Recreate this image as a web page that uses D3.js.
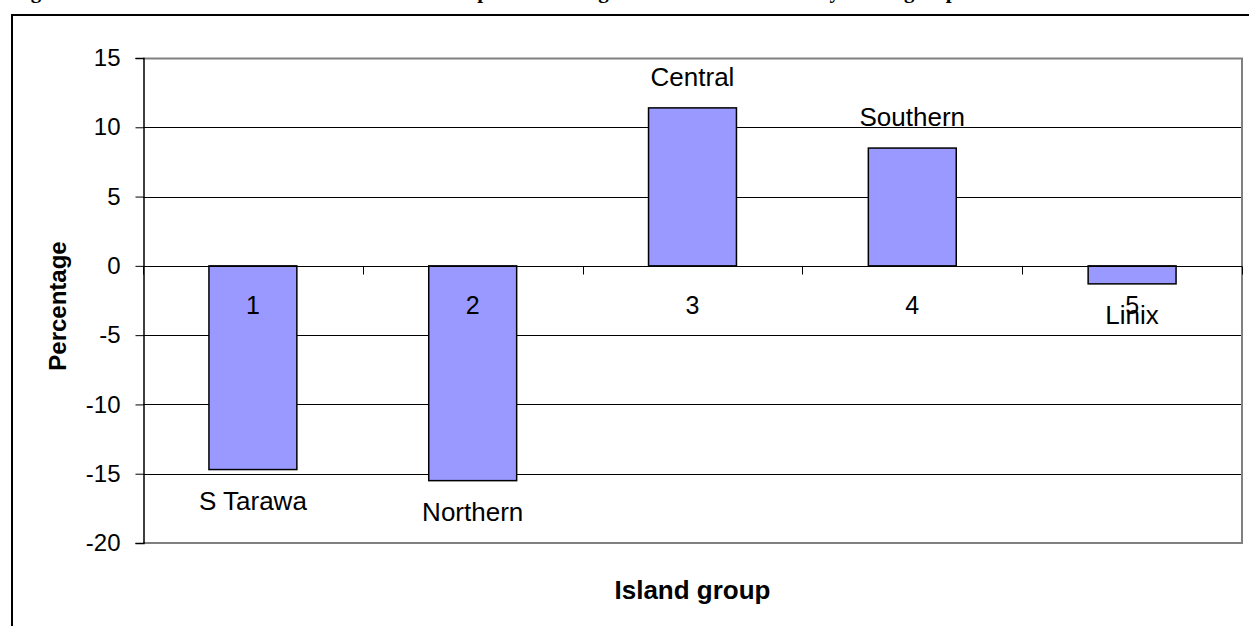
<!DOCTYPE html>
<html>
<head>
<meta charset="utf-8">
<script src="https://cdn.jsdelivr.net/npm/d3@7"></script>
<style>
  html, body { margin: 0; padding: 0; background: #fff; overflow: hidden; }
  svg { display: block; }
  text { font-family: "Liberation Sans", Arial, sans-serif; fill: #000; }
</style>
</head>
<body>
<svg id="chart" width="1249" height="626"></svg>
<script>
// Island groups, in axis order
const categories = ["1", "2", "3", "4", "5"];
const groupNames = ["S Tarawa", "Northern", "Central", "Southern", "Linix"];
// Percentage change for each group
const values = [-14.7, -15.5, 11.4, 8.5, -1.3];
const yTicks = [-20, -15, -10, -5, 0, 5, 10, 15];
const titleText = "Figure 4: Intercensal 2005 to 2010 total internal net per cent change in the usual residents by island group";

const svg = d3.select("#chart");
const W = 1249, H = 626;
const plot = { left: 143, right: 1242, top: 58, bottom: 543 };

// Page frame and the figure caption above it (mostly cut off by the top edge)
svg.append("text")
  .attr("x", 12).attr("y", -2)
  .style("font-family", '"Liberation Serif", "Times New Roman", serif')
  .style("font-weight", "bold").style("font-size", "21px")
  .text(titleText);
svg.append("line").attr("x1", 11).attr("x2", W).attr("y1", 15).attr("y2", 15)
  .attr("stroke", "#000").attr("stroke-width", 2);
svg.append("line").attr("x1", 12).attr("x2", 12).attr("y1", 14).attr("y2", H)
  .attr("stroke", "#000").attr("stroke-width", 2);

const x = d3.scaleBand().domain(categories).range([plot.left, plot.right])
  .paddingInner(0.6).paddingOuter(0.3);
const xBounds = d3.scaleLinear().domain([0, categories.length]).range([plot.left, plot.right]);
const y = d3.scaleLinear().domain([-20, 15]).range([plot.bottom, plot.top]);

// Horizontal gridlines
svg.append("g").selectAll("line")
  .data(yTicks.filter(t => t !== -20 && t !== 15 && t !== 0))
  .join("line")
  .attr("x1", plot.left).attr("x2", plot.right)
  .attr("y1", d => Math.round(y(d)) + 0.5).attr("y2", d => Math.round(y(d)) + 0.5)
  .attr("stroke", "#000").attr("stroke-width", 1);

// Plot area border (top, right, bottom)
svg.append("path")
  .attr("d", `M${plot.left},${plot.top + 0.5}H${plot.right}V${plot.bottom}H${plot.left}`)
  .attr("fill", "none").attr("stroke", "#808080").attr("stroke-width", 2);

// Y axis (plain hyphen for negatives)
const yAxis = d3.axisLeft(y).tickValues(yTicks).tickSize(8).tickPadding(15)
  .tickFormat(d => String(d));
const gy = svg.append("g").attr("transform", `translate(${plot.left + 0.5},0)`).call(yAxis);
gy.attr("font-size", null).attr("font-family", null);
gy.select(".domain").attr("stroke", "#000").attr("stroke-width", 1.5);
gy.selectAll(".tick line").attr("stroke", "#000");
gy.selectAll(".tick text").style("font-size", "24px")
  .style("font-family", '"Liberation Sans", Arial, sans-serif').attr("fill", "#000");

// Bars
svg.append("g").selectAll("rect")
  .data(values)
  .join("rect")
  .attr("x", (d, i) => x(categories[i]))
  .attr("width", x.bandwidth())
  .attr("y", d => y(Math.max(0, d)))
  .attr("height", d => Math.abs(y(d) - y(0)))
  .attr("fill", "#9999FF")
  .attr("stroke", "#000").attr("stroke-width", 1.5);

// Category axis along zero
const zeroY = Math.round(y(0)) + 0.5;
svg.append("line").attr("x1", plot.left).attr("x2", plot.right)
  .attr("y1", zeroY).attr("y2", zeroY).attr("stroke", "#000").attr("stroke-width", 1.2);
svg.append("g").selectAll("line")
  .data(d3.range(categories.length + 1))
  .join("line")
  .attr("x1", d => Math.round(xBounds(d)) + 0.5).attr("x2", d => Math.round(xBounds(d)) + 0.5)
  .attr("y1", zeroY).attr("y2", zeroY + 8)
  .attr("stroke", "#000").attr("stroke-width", 1);
svg.append("g").selectAll("text")
  .data(categories)
  .join("text")
  .attr("x", d => x(d) + x.bandwidth() / 2)
  .attr("y", y(0) + 48)
  .attr("text-anchor", "middle")
  .style("font-size", "25px")
  .text(d => d);

// Group names at the bar ends
svg.append("g").selectAll("text")
  .data(values)
  .join("text")
  .attr("x", (d, i) => x(categories[i]) + x.bandwidth() / 2)
  .attr("y", d => d >= 0 ? y(d) - 22 : y(d) + 40)
  .attr("text-anchor", "middle")
  .style("font-size", "26px")
  .text((d, i) => groupNames[i]);

// Axis titles
svg.append("text")
  .attr("transform", `translate(66,306) rotate(-90)`)
  .attr("text-anchor", "middle")
  .style("font-size", "24px").style("font-weight", "bold")
  .text("Percentage");
svg.append("text")
  .attr("x", (plot.left + plot.right) / 2).attr("y", 599)
  .attr("text-anchor", "middle")
  .style("font-size", "26px").style("font-weight", "bold")
  .text("Island group");
</script>
</body>
</html>
